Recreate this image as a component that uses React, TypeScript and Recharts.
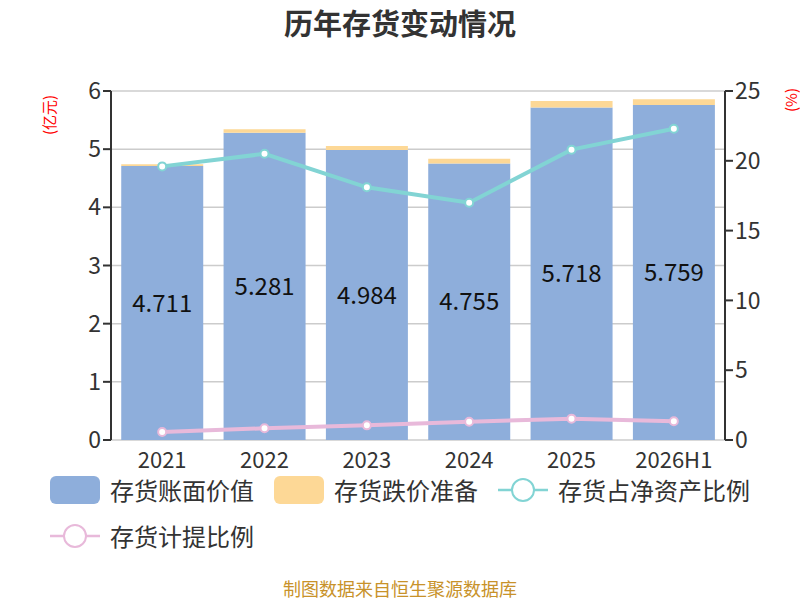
import React from "react"
import {
  ComposedChart,
  Bar,
  Line,
  XAxis,
  YAxis,
  CartesianGrid,
  LabelList,
} from "recharts"

const years = ["2021", "2022", "2023", "2024", "2025", "2026H1"]
const bookValue = [4.711, 5.281, 4.984, 4.755, 5.718, 5.759]
const impairment = [0.03, 0.06, 0.07, 0.08, 0.11, 0.1]
const shareOfNetAssets = [19.6, 20.5, 18.1, 17.0, 20.8, 22.3]
const provisionRatio = [0.57, 0.84, 1.05, 1.31, 1.53, 1.34]

const leftTicks = [0, 1, 2, 3, 4, 5, 6]
const rightTicks = [0, 5, 10, 15, 20, 25]
const boundaryTicks = [0, 1, 2, 3, 4, 5, 6]

const BLUE = "#8eaedb"
const ORANGE = "#fdd896"
const TEAL = "#82d4d4"
const PINK = "#e8b9da"
const FONT = '"Noto Sans CJK SC", "Noto Sans", sans-serif'

const rows = years.map((y, i) => ({
  year: y,
  book: bookValue[i],
  impairment: impairment[i],
  share: shareOfNetAssets[i],
  provision: provisionRatio[i],
}))

const legendItems = [
  { name: "存货账面价值", color: BLUE, kind: "rect" },
  { name: "存货跌价准备", color: ORANGE, kind: "rect" },
  { name: "存货占净资产比例", color: TEAL, kind: "line" },
  { name: "存货计提比例", color: PINK, kind: "line" },
]

function LegendIcon({ kind, color }: { kind: string; color: string }) {
  if (kind === "rect") {
    return (
      <svg width={50} height={28}>
        <rect x={0} y={0} width={50} height={28} rx={6} fill={color} />
      </svg>
    )
  }
  return (
    <svg width={50} height={28}>
      <line x1={0} y1={14} x2={50} y2={14} stroke={color} strokeWidth={2.5} />
      <circle cx={25} cy={14} r={11} fill="#fff" stroke={color} strokeWidth={2} />
    </svg>
  )
}

export default function App() {
  return (
    <div
      style={{
        position: "absolute",
        left: 0,
        top: 0,
        width: 800,
        height: 600,
        background: "#fff",
        fontFamily: FONT,
        overflow: "hidden",
      }}
    >
      <div
        style={{
          position: "absolute",
          top: 1,
          width: 800,
          textAlign: "center",
          fontSize: 29,
          fontWeight: "bold",
          color: "#333",
          lineHeight: "42px",
        }}
      >
        历年存货变动情况
      </div>

      <div
        style={{
          position: "absolute",
          left: 48,
          top: 115,
          transform: "translate(-50%, -50%) rotate(-90deg)",
          color: "#f00",
          fontSize: 15,
          whiteSpace: "nowrap",
        }}
      >
        (亿元)
      </div>
      <div
        style={{
          position: "absolute",
          left: 790,
          top: 100,
          transform: "translate(-50%, -50%) rotate(-90deg)",
          color: "#f00",
          fontSize: 15,
          whiteSpace: "nowrap",
        }}
      >
        (%)
      </div>

      <ComposedChart
        width={800}
        height={600}
        data={rows}
        margin={{ top: 91, right: 0, left: 0, bottom: 120 }}
        barCategoryGap="10%"
      >
        <CartesianGrid yAxisId="left" vertical={false} stroke="#cccccc" strokeWidth={1.5} />
        <XAxis
          xAxisId="edges"
          type="number"
          domain={[0, 6]}
          ticks={boundaryTicks}
          tick={false}
          height={0}
          axisLine={{ stroke: "#333", strokeWidth: 2 }}
          tickLine={{ stroke: "#333", strokeWidth: 2 }}
          tickSize={8}
        />
        <XAxis
          dataKey="year"
          height={40}
          axisLine={false}
          tickLine={false}
          tick={{ fill: "#333", fontSize: 22 }}
          tickMargin={6}
          interval={0}
        />
        <YAxis
          yAxisId="left"
          width={111}
          domain={[0, 6]}
          ticks={leftTicks}
          axisLine={{ stroke: "#333", strokeWidth: 2 }}
          tickLine={{ stroke: "#333", strokeWidth: 2 }}
          tickSize={8}
          tick={{ fill: "#333", fontSize: 23 }}
        />
        <YAxis
          yAxisId="right"
          orientation="right"
          width={75}
          domain={[0, 25]}
          ticks={rightTicks}
          axisLine={{ stroke: "#333", strokeWidth: 2 }}
          tickLine={{ stroke: "#333", strokeWidth: 2 }}
          tickSize={8}
          tick={{ fill: "#333", fontSize: 23 }}
        />
        <Bar yAxisId="left" dataKey="book" stackId="s" fill={BLUE} isAnimationActive={false}>
          <LabelList dataKey="book" position="center" fill="#111" fontSize={24} />
        </Bar>
        <Bar yAxisId="left" dataKey="impairment" stackId="s" fill={ORANGE} isAnimationActive={false} />
        <Line
          yAxisId="right"
          dataKey="share"
          stroke={TEAL}
          strokeWidth={4}
          dot={{ r: 4, fill: "#fff", stroke: TEAL, strokeWidth: 2 }}
          isAnimationActive={false}
        />
        <Line
          yAxisId="right"
          dataKey="provision"
          stroke={PINK}
          strokeWidth={4}
          dot={{ r: 4, fill: "#fff", stroke: PINK, strokeWidth: 2 }}
          isAnimationActive={false}
        />
      </ComposedChart>

      <div
        style={{
          position: "absolute",
          left: 50,
          top: 476,
          width: 720,
          display: "flex",
          flexWrap: "wrap",
          rowGap: 18,
          columnGap: 20,
          fontSize: 24,
          color: "#333",
        }}
      >
        {legendItems.map((it) => (
          <div key={it.name} style={{ display: "flex", alignItems: "center", gap: 10, height: 28 }}>
            <LegendIcon kind={it.kind} color={it.color} />
            <span style={{ lineHeight: "28px" }}>{it.name}</span>
          </div>
        ))}
      </div>

      <div
        style={{
          position: "absolute",
          top: 577,
          width: 800,
          textAlign: "center",
          fontSize: 18,
          color: "#c8922a",
          lineHeight: "22px",
        }}
      >
        制图数据来自恒生聚源数据库
      </div>
    </div>
  )
}
